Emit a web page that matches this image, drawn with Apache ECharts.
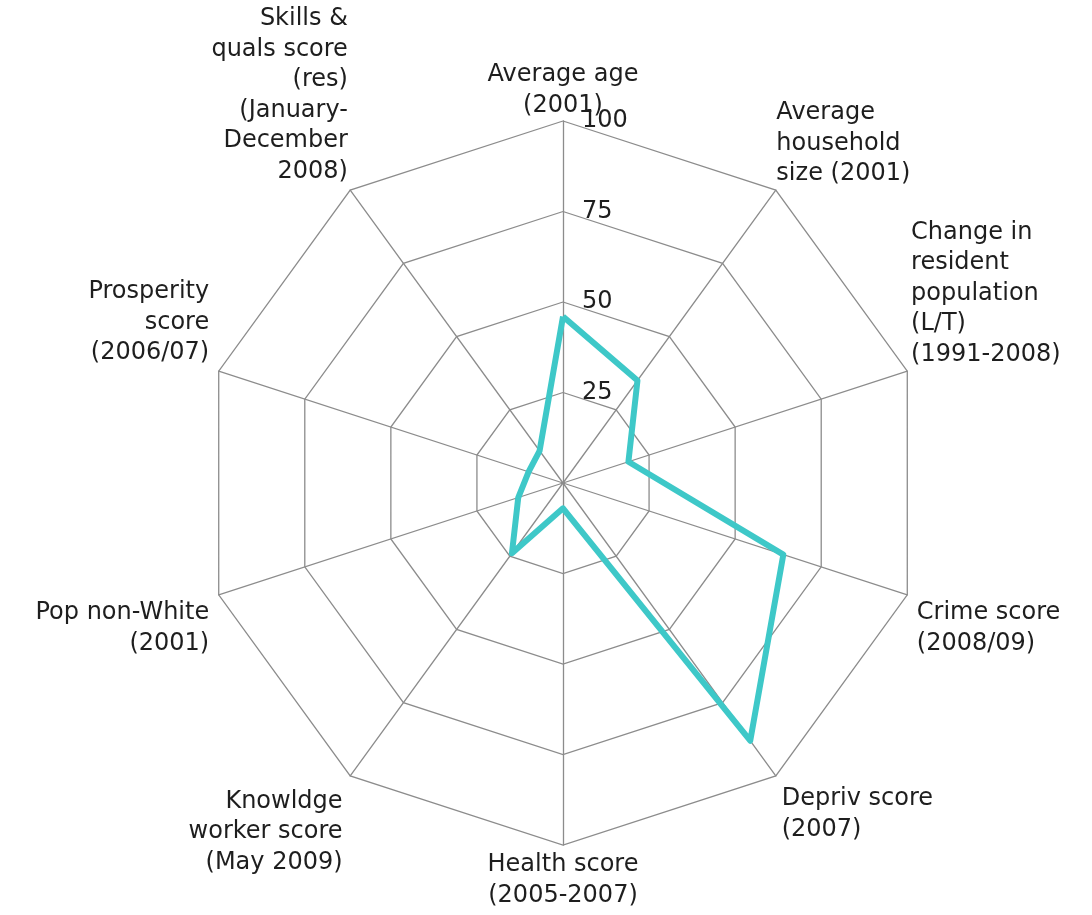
<!DOCTYPE html>
<html>
<head>
<meta charset="utf-8">
<script src="https://cdn.jsdelivr.net/npm/echarts@6/dist/echarts.min.js"></script>
<style>
html,body{margin:0;padding:0;background:#fff;}
#chart{width:1092px;height:915px;}
</style>
</head>
<body>
<div id="chart"></div>
<script>
// Categories in ECharts radar order (counter-clockwise from the top)
const categories = [
  'Average age\n(2001)',
  'Skills &\nquals score\n(res)\n(January-\nDecember\n2008)',
  'Prosperity\nscore\n(2006/07)',
  'Pop non-White\n(2001)',
  'Knowldge\nworker score\n(May 2009)',
  'Health score\n(2005-2007)',
  'Depriv score\n(2007)',
  'Crime score\n(2008/09)',
  'Change in\nresident\npopulation\n(L/T)\n(1991-2008)',
  'Average\nhousehold\nsize (2001)'
];
const seriesValues = [46, 11, 10, 13, 24, 7, 88, 64, 19, 35];
const axisMax = 100;
const tickLabels = ['25', '50', '75', '100'];

// label placement per axis (style only)
const nameAlign = ['center','right','right','right','right','center','left','left','left','left'];
const nameVAlign = ['bottom','bottom','bottom','top','top','top','top','top','bottom','bottom'];
const nameGaps = [0, 4, 10, 10, 13, 5, 10, 10, 4, 1];

const indicators = categories.map(function (n, i) {
  const ind = {
    name: n, min: 0, max: axisMax,
    nameGap: nameGaps[i],
    nameMoveOverlap: false,
    nameTextStyle: { align: nameAlign[i], verticalAlign: nameVAlign[i] }
  };
  if (i === 0) {
    ind.axisLabel = {
      show: true,
      showMinLabel: false,
      color: '#1e1e1e',
      fontFamily: 'DejaVu Sans',
      fontSize: 24,
      margin: -19,
      align: 'left',
      verticalAlign: 'middle',
      formatter: function (v) { const s = String(v); return tickLabels.indexOf(s) >= 0 ? s : ''; }
    };
  }
  return ind;
});

const chart = echarts.init(document.getElementById('chart'), null, { renderer: 'canvas' });
chart.setOption({
  animation: false,
  backgroundColor: '#ffffff',
  radar: {
    center: [563, 483],
    radius: 362,
    startAngle: 90,
    splitNumber: 4,
    shape: 'polygon',
    nameMoveOverlap: false,
    axisName: {
      color: '#1e1e1e',
      fontFamily: 'DejaVu Sans',
      fontSize: 24,
      lineHeight: 30.5
    },
    axisLine: { lineStyle: { color: '#8c8c8c', width: 1.3 } },
    splitLine: { lineStyle: { color: '#8c8c8c', width: 1.3 } },
    splitArea: { show: false },
    axisTick: { show: false },
    axisLabel: { show: false },
    indicator: indicators
  },
  series: [{
    type: 'radar',
    symbol: 'none',
    lineStyle: { color: '#3ec8c8', width: 6 },
    data: [{ value: seriesValues }]
  }]
});
</script>
</body>
</html>
